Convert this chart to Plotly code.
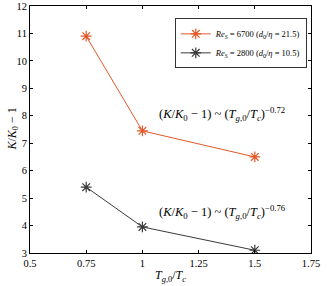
import plotly.graph_objects as go

x_vals = [0.75, 1.0, 1.5]
y_re6700 = [10.9, 7.45, 6.5]
y_re2800 = [5.4, 3.95, 3.1]
name_6700 = "<i>Re<sub>S</sub></i> = 6700 (<i>d</i><sub>0</sub>/<i>η</i> = 21.5)"
name_2800 = "<i>Re<sub>S</sub></i> = 2800 (<i>d</i><sub>0</sub>/<i>η</i> = 10.5)"
x_ticks = [0.5, 0.75, 1.0, 1.25, 1.5, 1.75]
x_tick_labels = ["0.5", "0.75", "1", "1.25", "1.5", "1.75"]
y_ticks = list(range(3, 13))

orange = "#E2592A"
dark = "#3A3A3A"
font_family = "Liberation Serif, DejaVu Serif, serif"

fig = go.Figure()
fig.add_trace(go.Scatter(x=x_vals, y=y_re6700, mode="lines+markers", name=name_6700,
                         line=dict(color=orange, width=1),
                         marker=dict(symbol="asterisk-open", size=9, color=orange,
                                     line=dict(color=orange, width=1.2))))
fig.add_trace(go.Scatter(x=x_vals, y=y_re2800, mode="lines+markers", name=name_2800,
                         line=dict(color=dark, width=1),
                         marker=dict(symbol="asterisk-open", size=9, color=dark,
                                     line=dict(color=dark, width=1.2))))

ann_font = dict(family=font_family, size=12.5, color="black", weight="normal")
fig.add_annotation(x=1.065, y=8.05, xanchor="left", yanchor="middle", showarrow=False,
                   text="(<i>K</i>/<i>K</i><sub>0</sub> − 1) ~ (<i>T</i><sub><i>g</i>,0</sub>/<i>T<sub>c</sub></i>)<sup>−0.72</sup>",
                   font=ann_font)
fig.add_annotation(x=1.065, y=4.5, xanchor="left", yanchor="middle", showarrow=False,
                   text="(<i>K</i>/<i>K</i><sub>0</sub> − 1) ~ (<i>T</i><sub><i>g</i>,0</sub>/<i>T<sub>c</sub></i>)<sup>−0.76</sup>",
                   font=ann_font)
# axis titles
fig.add_annotation(x=0.5, y=-0.095, xref="paper", yref="paper", xanchor="center", yanchor="middle",
                   showarrow=False,
                   text="<i>T</i><sub><i>g</i>,0</sub>/<i>T<sub>c</sub></i>",
                   font=dict(family=font_family, size=12, color="black"))
fig.add_annotation(x=-0.064, y=0.5, xref="paper", yref="paper", xanchor="center", yanchor="middle",
                   showarrow=False, textangle=-90,
                   text="<i>K</i>/<i>K</i><sub>0</sub> − 1",
                   font=dict(family=font_family, size=12, color="black"))

axis_common = dict(showline=True, linecolor="black", linewidth=1, mirror="ticks",
                   ticks="inside", ticklen=3, tickcolor="black", showgrid=False,
                   zeroline=False, automargin=False,
                   tickfont=dict(family=font_family, size=10.5, color="black"))

fig.update_layout(
    width=327, height=286,
    margin=dict(l=30, r=16, t=6, b=33),
    paper_bgcolor="white", plot_bgcolor="white",
    font=dict(family=font_family, color="black"),
    xaxis=dict(range=[0.5, 1.75], tickvals=x_ticks, ticktext=x_tick_labels, **axis_common),
    yaxis=dict(range=[3, 12], tickvals=y_ticks, **axis_common),
    legend=dict(x=0.985, y=0.95, xanchor="right", yanchor="top",
                bgcolor="white", bordercolor="#333", borderwidth=1,
                font=dict(family=font_family, size=8.5), tracegroupgap=0,
                itemwidth=30),
    showlegend=True,
)

fig.write_html("out.html", config={"displayModeBar": False},
               post_script="document.body.style.margin='0';")
